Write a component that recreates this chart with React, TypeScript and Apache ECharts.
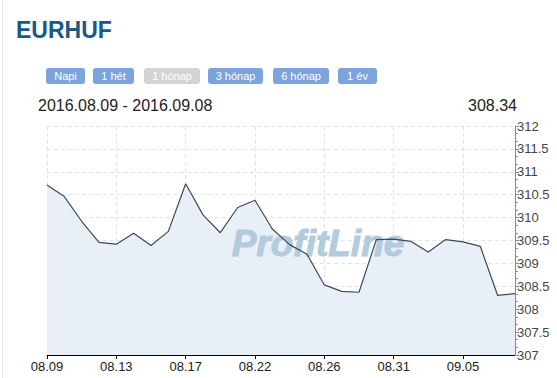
import React, { useEffect, useRef } from "react";
import * as echarts from "echarts";

const categories = [
  "08.09", "08.10", "08.11", "08.12", "08.13", "08.14", "08.15", "08.16",
  "08.17", "08.18", "08.19", "08.20", "08.22", "08.23", "08.24", "08.25",
  "08.26", "08.27", "08.29", "08.30", "08.31", "09.01", "09.02", "09.03",
  "09.05", "09.06", "09.07", "09.08",
];
const rates = [
  310.71, 310.46, 309.92, 309.46, 309.42, 309.66, 309.39, 309.70,
  310.74, 310.06, 309.67, 310.22, 310.38, 309.75, 309.41, 309.20,
  308.53, 308.39, 308.37, 309.52, 309.53, 309.48, 309.25, 309.52,
  309.47, 309.37, 308.30, 308.34,
];
const buttons = ["Napi", "1 hét", "1 hónap", "3 hónap", "6 hónap", "1 év"];
const activeButton = "1 hónap";
const title = "EURHUF";
const rangeText = "2016.08.09 - 2016.09.08";
const lastValue = "308.34";
const watermark = "ProfitLine";

const FONT = "'Liberation Sans', Arial, sans-serif";

export default function App() {
  const ref = useRef<HTMLDivElement>(null);
  useEffect(() => {
    document.body.style.margin = "0";
    if (!ref.current) return;
    const chart = echarts.init(ref.current, null, { renderer: "svg" });

    const btnX = [46, 93, 144, 208, 273, 338];
    const btnW = [39, 41, 56, 55, 56, 39];
    const buttonGraphics: any[] = [];
    buttons.forEach((b, i) => {
      const active = b === activeButton;
      buttonGraphics.push({
        type: "rect",
        shape: { x: btnX[i], y: 68, width: btnW[i], height: 16, r: 3 },
        style: { fill: active ? "#d4d4d4" : "#7ba4dd" },
        z: 10,
      });
      buttonGraphics.push({
        type: "text",
        x: btnX[i] + btnW[i] / 2,
        y: 76,
        style: {
          text: b,
          fill: "#ffffff",
          font: `11px ${FONT}`,
          align: "center",
          verticalAlign: "middle",
        },
        z: 11,
      });
    });

    chart.setOption({
      animation: false,
      backgroundColor: "#ffffff",
      grid: { left: 47, right: 42, top: 126, bottom: 23, containLabel: false },
      xAxis: {
        type: "category",
        data: categories,
        boundaryGap: false,
        axisLine: { lineStyle: { color: "#000000", width: 1 } },
        axisTick: { show: true, interval: 3, length: 4, lineStyle: { color: "#000000" } },
        axisLabel: {
          interval: 3,
          color: "#222222",
          fontSize: 13,
          fontFamily: FONT,
          margin: 5,
        },
        splitLine: {
          show: true,
          interval: 3,
          lineStyle: { color: "#e2e2e2", type: [4, 3] },
        },
      },
      yAxis: {
        type: "value",
        position: "right",
        min: 307,
        max: 312,
        interval: 0.5,
        axisLine: { show: true, lineStyle: { color: "#888888" } },
        axisTick: { show: true, length: 4, lineStyle: { color: "#888888" } },
        minorTick: { show: true, splitNumber: 3, length: 3, lineStyle: { color: "#cc7777" } },
        axisLabel: {
          color: "#444444",
          fontSize: 13,
          fontFamily: FONT,
          margin: 2,
        },
        splitLine: { show: true, lineStyle: { color: "#e2e2e2", type: [4, 3] } },
      },
      series: [
        {
          type: "line",
          data: rates,
          symbol: "none",
          lineStyle: { width: 0, opacity: 0 },
          areaStyle: { color: "#e8eff7", opacity: 1 },
          z: 1,
          silent: true,
        },
        {
          type: "line",
          data: rates,
          symbol: "none",
          lineStyle: { color: "#3e4a55", width: 1.2 },
          z: 4,
        },
      ],
      graphic: [
        {
          type: "line",
          shape: { x1: 2.5, y1: 0, x2: 2.5, y2: 378 },
          style: { stroke: "#e4e4e4", lineWidth: 1 },
        },
        {
          type: "text",
          x: 16,
          y: 30,
          style: {
            text: title,
            fill: "#175a8a",
            font: `bold 23px ${FONT}`,
            verticalAlign: "middle",
          },
        },
        ...buttonGraphics,
        {
          type: "text",
          x: 38,
          y: 105,
          style: {
            text: rangeText,
            fill: "#222222",
            font: `16px ${FONT}`,
            verticalAlign: "middle",
          },
        },
        {
          type: "text",
          x: 517,
          y: 105,
          style: {
            text: lastValue,
            fill: "#222222",
            font: `16px ${FONT}`,
            align: "right",
            verticalAlign: "middle",
          },
        },
        {
          type: "text",
          x: 318,
          y: 243,
          z: 2,
          style: {
            text: watermark,
            fill: "#b3cbde",
            stroke: "#b3cbde",
            lineWidth: 1,
            font: `italic bold 37px ${FONT}`,
            align: "center",
            verticalAlign: "middle",
          },
        },
      ],
    });
    return () => chart.dispose();
  }, []);
  return <div ref={ref} style={{ width: 557, height: 378 }} />;
}
